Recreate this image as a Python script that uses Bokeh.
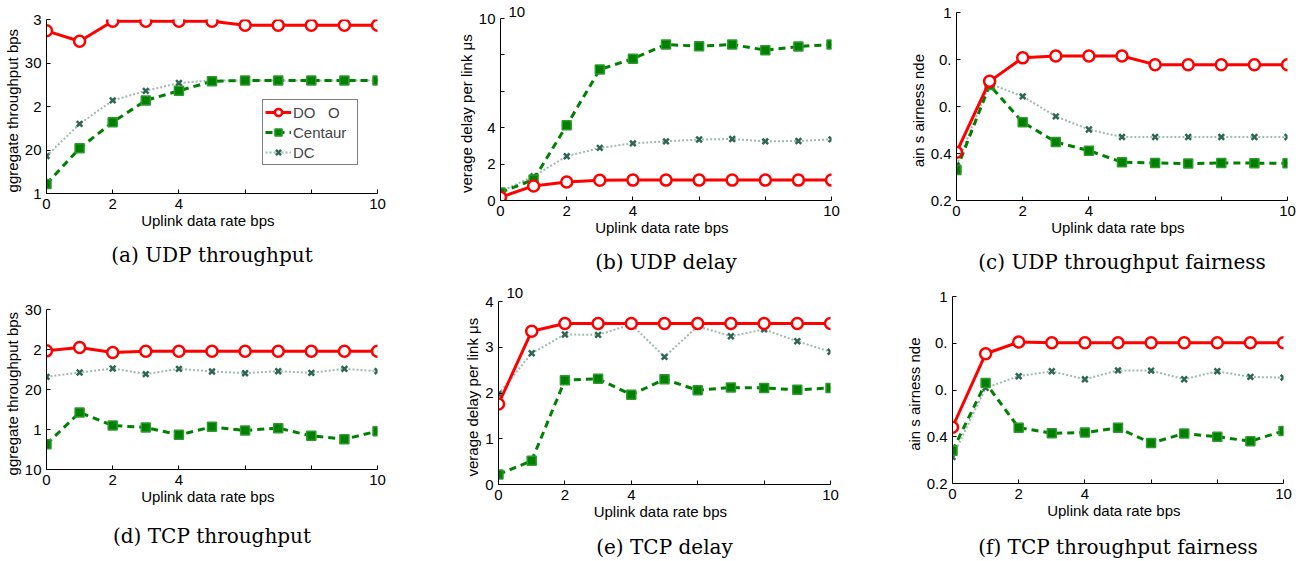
from bokeh.plotting import figure
from bokeh.models import Range1d, FixedTicker, Title, Legend, LegendItem, LinearAxis
from bokeh.layouts import column, row
from bokeh.embed import file_html
from bokeh.resources import INLINE

# ---------------- data ----------------
x = [0, 1, 2, 3, 4, 5, 6, 7, 8, 9, 10]
x_ticks = [0, 2, 4, 6, 8, 10]
x_tick_labels = ["0", "2", "4", "", "", "10"]
x_label = "Uplink data rate   bps"

series_names = ["DO   O", "Centaur", "DC"]

udp_tput_domino = [33.7, 32.5, 34.8, 34.8, 34.8, 34.8, 34.35, 34.35, 34.35, 34.35, 34.35]
udp_tput_centaur = [16.1, 20.2, 23.2, 25.7, 26.8, 27.9, 28.0, 28.0, 28.0, 28.0, 28.0]
udp_tput_dcf = [19.3, 23.0, 25.7, 26.8, 27.7, 28.0, 28.0, 28.0, 28.0, 28.0, 28.0]

udp_delay_domino = [0.18, 0.80, 1.02, 1.11, 1.12, 1.12, 1.12, 1.12, 1.12, 1.12, 1.12]
udp_delay_centaur = [0.44, 1.15, 4.13, 7.20, 7.79, 8.57, 8.48, 8.57, 8.26, 8.46, 8.57]
udp_delay_dcf = [0.49, 1.33, 2.43, 2.89, 3.14, 3.25, 3.35, 3.38, 3.25, 3.27, 3.36]

udp_fair_domino = [0.405, 0.707, 0.807, 0.815, 0.815, 0.815, 0.778, 0.778, 0.778, 0.778, 0.778]
udp_fair_centaur = [0.330, 0.691, 0.533, 0.449, 0.412, 0.363, 0.360, 0.357, 0.360, 0.359, 0.359]
udp_fair_dcf = [0.35, 0.697, 0.643, 0.558, 0.502, 0.470, 0.470, 0.470, 0.470, 0.470, 0.470]

tcp_tput_domino = [24.83, 25.25, 24.63, 24.79, 24.79, 24.79, 24.79, 24.79, 24.79, 24.79, 24.79]
tcp_tput_centaur = [13.17, 17.13, 15.5, 15.25, 14.33, 15.33, 14.88, 15.17, 14.21, 13.79, 14.79]
tcp_tput_dcf = [21.58, 22.13, 22.63, 21.92, 22.58, 22.25, 22.04, 22.29, 22.08, 22.58, 22.29]

tcp_delay_domino = [1.76, 3.35, 3.52, 3.52, 3.52, 3.52, 3.52, 3.52, 3.52, 3.52, 3.52]
tcp_delay_centaur = [0.22, 0.52, 2.28, 2.31, 1.96, 2.30, 2.06, 2.12, 2.11, 2.07, 2.11]
tcp_delay_dcf = [1.98, 2.87, 3.28, 3.27, 3.50, 2.79, 3.46, 3.24, 3.39, 3.13, 2.90]

tcp_fair_domino = [0.441, 0.755, 0.805, 0.802, 0.802, 0.802, 0.802, 0.802, 0.802, 0.802, 0.802]
tcp_fair_centaur = [0.340, 0.630, 0.439, 0.415, 0.418, 0.438, 0.373, 0.414, 0.400, 0.381, 0.425]
tcp_fair_dcf = [0.313, 0.609, 0.659, 0.680, 0.646, 0.684, 0.683, 0.646, 0.680, 0.656, 0.653]

tput_udp_ticks = [15, 20, 25, 30, 35]
tput_udp_labels = ["1", "20", "2", "30", "3"]
tput_tcp_ticks = [10, 15, 20, 25, 30]
tput_tcp_labels = ["10", "1", "20", "2", "30"]
delay_udp_ticks = [0, 2, 4, 6, 8, 10]
delay_udp_labels = ["0", "2", "4", "", "", "10"]
delay_tcp_ticks = [0, 1, 2, 3, 4]
delay_tcp_labels = ["0", "1", "2", "3", "4"]
fair_ticks = [0.2, 0.4, 0.6, 0.8, 1.0]
fair_labels = ["0.2", "0.4", "0.", "0.", "1"]

tput_ylabel = "ggregate throughput   bps"
delay_ylabel = "verage delay per link   \u03bcs"
fair_ylabel = "ain s  airness  nde"
multiplier = "10"

captions = ["(a) UDP throughput", "(b) UDP delay", "(c) UDP throughput fairness",
            "(d) TCP throughput", "(e) TCP delay", "(f) TCP throughput fairness"]

# ---------------- styling ----------------
RED = "#ff0000"
GREEN = "#008000"
DCF_LINE = "#9dbbb0"
DCF_MARK = "#2e6652"
SANS = "Liberation Sans"


def panel(ydata, yr, yticks, ylabels, ylabel, caption, width, height,
          bl, br, bt, bb, cap_standoff, mult_standoff=None, legend=False):
    p = figure(width=width, height=height, x_range=Range1d(0, 10),
               y_range=Range1d(*yr), output_backend="svg", toolbar_location=None,
               title=None,
               min_border_left=bl, min_border_right=br, min_border_top=bt,
               min_border_bottom=bb)
    p.outline_line_color = None
    p.grid.visible = False
    p.background_fill_color = "white"
    p.border_fill_color = "white"

    for ax in (p.xaxis[0], p.yaxis[0]):
        ax.axis_line_color = "black"
        ax.axis_line_width = 1
        ax.major_tick_in = 4
        ax.major_tick_out = 0
        ax.major_tick_line_color = "black"
        ax.minor_tick_line_color = None
        ax.major_label_text_font = SANS
        ax.major_label_text_font_size = "15px"
        ax.major_label_text_color = "black"
        ax.axis_label_text_font = SANS
        ax.axis_label_text_font_size = "15px"
        ax.axis_label_text_font_style = "normal"
        ax.axis_label_text_color = "black"

    p.xaxis.ticker = FixedTicker(ticks=x_ticks)
    p.xaxis.major_label_overrides = dict(zip(x_ticks, x_tick_labels))
    p.xaxis.axis_label = x_label
    p.xaxis.major_label_standoff = 5
    p.xaxis.axis_label_standoff = 0

    p.yaxis.ticker = FixedTicker(ticks=yticks)
    p.yaxis.major_label_overrides = dict(zip(yticks, ylabels))
    p.yaxis.axis_label = ylabel
    p.yaxis.major_label_standoff = 5
    p.yaxis.axis_label_standoff = 1

    dom, cen, dcf = ydata
    l3 = p.line(x, dcf, line_color=DCF_LINE, line_width=2, line_dash="2 2")
    s3 = p.scatter(x, dcf, marker="x", size=8, line_color=DCF_MARK, line_width=2.5)
    l2 = p.line(x, cen, line_color=GREEN, line_width=3, line_dash="7 5")
    s2 = p.scatter(x, cen, marker="square", size=9, fill_color=GREEN,
                   line_color="#2c9a2c", line_width=1.5)
    l1 = p.line(x, dom, line_color=RED, line_width=3)
    s1 = p.scatter(x, dom, marker="circle", size=11, fill_color="white",
                   line_color=RED, line_width=2.5)

    if mult_standoff is not None:
        t = Title(text=multiplier, align="left", offset=8, text_font=SANS,
                  text_font_size="15px", text_font_style="normal",
                  text_color="black", standoff=mult_standoff)
        p.add_layout(t, "above")

    if legend:
        lg = Legend(items=[LegendItem(label=series_names[0], renderers=[l1, s1]),
                           LegendItem(label=series_names[1], renderers=[l2, s2]),
                           LegendItem(label=series_names[2], renderers=[l3, s3])],
                    location=(216, 28), orientation="vertical")
        lg.label_text_font = SANS
        lg.label_text_font_size = "15px"
        lg.glyph_width = 26
        lg.glyph_height = 18
        lg.label_height = 20
        lg.label_width = 62
        lg.label_standoff = 2
        lg.spacing = 0
        lg.padding = 2
        lg.margin = 0
        lg.border_line_color = "black"
        lg.border_line_width = 1.2
        lg.background_fill_color = "white"
        lg.background_fill_alpha = 1
        p.add_layout(lg, "center")

    cap = LinearAxis(axis_label=caption, ticker=FixedTicker(ticks=[]),
                     axis_line_color=None, major_tick_line_color=None,
                     minor_tick_line_color=None, major_tick_out=0, major_tick_in=0,
                     major_label_standoff=0, major_label_text_font_size="1px",
                     axis_label_standoff=cap_standoff,
                     axis_label_text_font="DejaVu Serif",
                     axis_label_text_font_size="20px",
                     axis_label_text_font_style="normal",
                     axis_label_text_color="black")
    p.add_layout(cap, "below")
    return p


pa = panel((udp_tput_domino, udp_tput_centaur, udp_tput_dcf), (15, 35),
           tput_udp_ticks, tput_udp_labels, tput_ylabel, captions[0],
           445, 280, 46, 68, 19, 87, 11, legend=True)
pb = panel((udp_delay_domino, udp_delay_centaur, udp_delay_dcf), (0, 10),
           delay_udp_ticks, delay_udp_labels, delay_ylabel, captions[1],
           445, 280, 55, 59, 18, 80, 11, mult_standoff=4)
pc = panel((udp_fair_domino, udp_fair_centaur, udp_fair_dcf), (0.2, 1.0),
           fair_ticks, fair_labels, fair_ylabel, captions[2],
           416, 280, 66, 19, 12, 80, 11)
pd = panel((tcp_tput_domino, tcp_tput_centaur, tcp_tput_dcf), (10, 30),
           tput_tcp_ticks, tput_tcp_labels, tput_ylabel, captions[3],
           445, 281, 46, 68, 29, 92, 16)
pe = panel((tcp_delay_domino, tcp_delay_centaur, tcp_delay_dcf), (0, 4),
           delay_tcp_ticks, delay_tcp_labels, delay_ylabel, captions[4],
           445, 281, 53, 60, 21, 77, 12, mult_standoff=7)
pf = panel((tcp_fair_domino, tcp_fair_centaur, tcp_fair_dcf), (0.2, 1.0),
           fair_ticks, fair_labels, fair_ylabel, captions[5],
           416, 281, 62, 23, 16, 77, 13)

layout = column(row(column(pa), column(pb), column(pc)),
                row(column(pd), column(pe), column(pf)))

open("out.html", "w").write(file_html(layout, INLINE))
